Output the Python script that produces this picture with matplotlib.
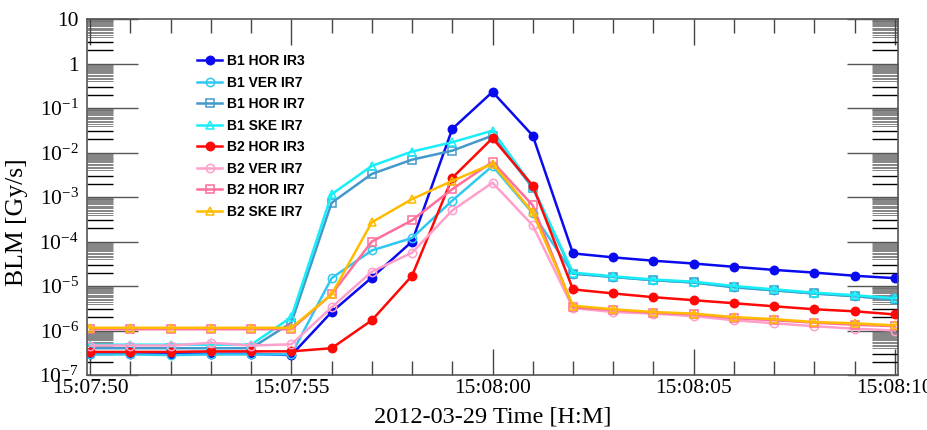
import numpy as np
import matplotlib
matplotlib.use("Agg")
import matplotlib.pyplot as plt
from matplotlib.ticker import FixedLocator, NullFormatter

plt.rcParams['mathtext.fontset'] = 'custom'
plt.rcParams['mathtext.rm'] = 'Liberation Serif'
plt.rcParams['mathtext.it'] = 'Liberation Serif:italic'

# seconds after 15:07:50
t = list(range(21))

b1_hor_ir3 = [3.0e-7, 3.0e-7, 3.0e-7, 3.0e-7, 3.0e-7, 2.8e-7, 2.6e-6, 1.55e-5, 1.0e-4, 3.4e-2, 2.3e-1,
              2.4e-2, 5.4e-5, 4.4e-5, 3.7e-5, 3.2e-5, 2.7e-5, 2.3e-5, 2.0e-5, 1.7e-5, 1.5e-5]
b1_ver_ir7 = [2.9e-7, 2.9e-7, 2.8e-7, 2.9e-7, 2.9e-7, 2.9e-7, 1.5e-5, 6.3e-5, 1.2e-4, 8.3e-4, 5.0e-3,
              4.3e-4, 1.9e-5, 1.6e-5, 1.35e-5, 1.2e-5, 9.3e-6, 8.0e-6, 6.8e-6, 5.9e-6, 5.0e-6]
b1_hor_ir7 = [4.0e-7, 4.0e-7, 4.0e-7, 4.0e-7, 4.0e-7, 1.5e-6, 7.4e-4, 3.3e-3, 6.9e-3, 1.1e-2, 2.4e-2,
              1.6e-3, 1.9e-5, 1.6e-5, 1.35e-5, 1.2e-5, 9.5e-6, 8.0e-6, 6.8e-6, 5.9e-6, 5.0e-6]
b1_ske_ir7 = [4.8e-7, 4.8e-7, 4.8e-7, 4.8e-7, 4.8e-7, 2.0e-6, 1.15e-3, 5.0e-3, 1.05e-2, 1.7e-2, 3.1e-2,
              1.7e-3, 2.0e-5, 1.65e-5, 1.4e-5, 1.25e-5, 1.0e-5, 8.4e-6, 7.1e-6, 6.2e-6, 5.3e-6]
b2_hor_ir3 = [3.3e-7, 3.3e-7, 3.3e-7, 3.4e-7, 3.4e-7, 3.4e-7, 4.0e-7, 1.7e-6, 1.7e-5, 2.7e-3, 2.1e-2,
              1.8e-3, 8.4e-6, 6.8e-6, 5.6e-6, 4.8e-6, 4.1e-6, 3.5e-6, 3.0e-6, 2.7e-6, 2.3e-6]
b2_ver_ir7 = [4.6e-7, 4.6e-7, 4.6e-7, 5.3e-7, 4.6e-7, 4.9e-7, 3.3e-6, 2.1e-5, 5.6e-5, 5.0e-4, 2.1e-3,
              2.3e-4, 3.2e-6, 2.6e-6, 2.4e-6, 2.1e-6, 1.7e-6, 1.45e-6, 1.25e-6, 1.1e-6, 1.0e-6]
b2_hor_ir7 = [1.07e-6, 1.07e-6, 1.07e-6, 1.07e-6, 1.07e-6, 1.07e-6, 6.5e-6, 1.0e-4, 3.0e-4, 1.5e-3, 6.2e-3,
              6.5e-4, 3.3e-6, 2.9e-6, 2.5e-6, 2.3e-6, 1.9e-6, 1.7e-6, 1.5e-6, 1.35e-6, 1.25e-6]
b2_ske_ir7 = [1.15e-6, 1.15e-6, 1.15e-6, 1.15e-6, 1.15e-6, 1.15e-6, 6.5e-6, 2.7e-4, 9.0e-4, 2.3e-3, 5.6e-3,
              4.5e-4, 3.6e-6, 3.0e-6, 2.6e-6, 2.4e-6, 2.0e-6, 1.8e-6, 1.55e-6, 1.45e-6, 1.3e-6]

series = [
    ("B1 HOR IR3", b1_hor_ir3, "#0a0aee", "o", True),
    ("B1 VER IR7", b1_ver_ir7, "#30c8f0", "o", False),
    ("B1 HOR IR7", b1_hor_ir7, "#4499cc", "s", False),
    ("B1 SKE IR7", b1_ske_ir7, "#18eef8", "^", False),
    ("B2 HOR IR3", b2_hor_ir3, "#ff0808", "o", True),
    ("B2 VER IR7", b2_ver_ir7, "#ff9fcc", "o", False),
    ("B2 HOR IR7", b2_hor_ir7, "#ff6f9a", "s", False),
    ("B2 SKE IR7", b2_ske_ir7, "#ffbb00", "^", False),
]

xtick_pos = [0, 5, 10, 15, 20]
xtick_labels = ["15:07:50", "15:07:55", "15:08:00", "15:08:05", "15:08:10"]

fig = plt.figure(figsize=(9.27, 4.30), dpi=100)
ax = fig.add_axes([0.0939, 0.1279, 0.8748, 0.8279])

for name, vals, col, mk, filled in series:
    ax.plot(t, vals, color=col, lw=1.8, marker=mk, markersize=6.0 if mk != "s" else 5.5,
            markerfacecolor=col if filled else "none", markeredgecolor=col,
            markeredgewidth=1.1, label=name)

ax.set_yscale("log")
ax.set_ylim(1e-7, 10)
ax.set_xlim(-0.08, 20.08)

# y ticks
majors = [10.0 ** k for k in range(-7, 2)]
ylabels = []
for k in range(-7, 2):
    if k == 1:
        ylabels.append("10")
    elif k == 0:
        ylabels.append("1")
    else:
        ylabels.append(r"$10^{%d}$" % k)
ax.set_yticks(majors)
ax.set_yticklabels(ylabels)
ax.yaxis.set_minor_formatter(NullFormatter())
ax.yaxis.set_minor_locator(FixedLocator([s * 10.0 ** k for k in range(-7, 1) for s in (2, 3)]))

# dense grey minor ticks (4..10 of each decade), drawn as a secondary set
dense = [s * 10.0 ** k for k in range(-7, 1) for s in np.arange(4, 10, 0.4)]
for side in ("left", "right"):
    sec = ax.secondary_yaxis(side)
    sec.set_yscale("log")
    sec.set_yticks(dense)
    sec.set_yticklabels([])
    sec.yaxis.set_minor_locator(FixedLocator([]))
    sec.tick_params(axis="y", which="major", direction="in", length=19, width=0.6,
                    color="#707070", labelleft=False, labelright=False)
    sec.spines[side].set_visible(False)

# x ticks
ax.set_xticks(xtick_pos)
ax.set_xticklabels(xtick_labels)
ax.xaxis.set_minor_locator(FixedLocator(t))

ax.tick_params(axis="y", which="major", direction="in", length=37, width=1.0, color="#555555",
               left=True, right=True, labelsize=15.5, pad=6)
ax.tick_params(axis="y", which="minor", direction="in", length=19, width=1.0, color="black",
               left=True, right=True)
ax.tick_params(axis="x", which="major", direction="in", length=19, width=1.0, color="#444444",
               bottom=True, top=True, labelsize=15.5, pad=3)
ax.tick_params(axis="x", which="minor", direction="in", length=10, width=1.0, color="#444444",
               bottom=True, top=True)
for lbl in ax.get_xticklabels() + ax.get_yticklabels():
    lbl.set_fontfamily("Liberation Serif")

for s in ax.spines.values():
    s.set_color("#555555")
    s.set_linewidth(1.2)

ax.set_ylabel("BLM [Gy/s]", fontsize=18.5, family="Liberation Serif")
ax.yaxis.set_label_coords(-0.073, 0.43)
ax.set_xlabel("2012-03-29 Time [H:M]", fontsize=17.5, family="Liberation Serif", labelpad=6)

leg = ax.legend(loc="upper left", bbox_to_anchor=(0.129, 0.917), frameon=False,
                prop={"family": "Liberation Sans", "weight": "bold", "size": 10},
                handlelength=1.8, labelspacing=0.54, handletextpad=0.35, borderaxespad=0)

fig.savefig("out.png", dpi=100)
